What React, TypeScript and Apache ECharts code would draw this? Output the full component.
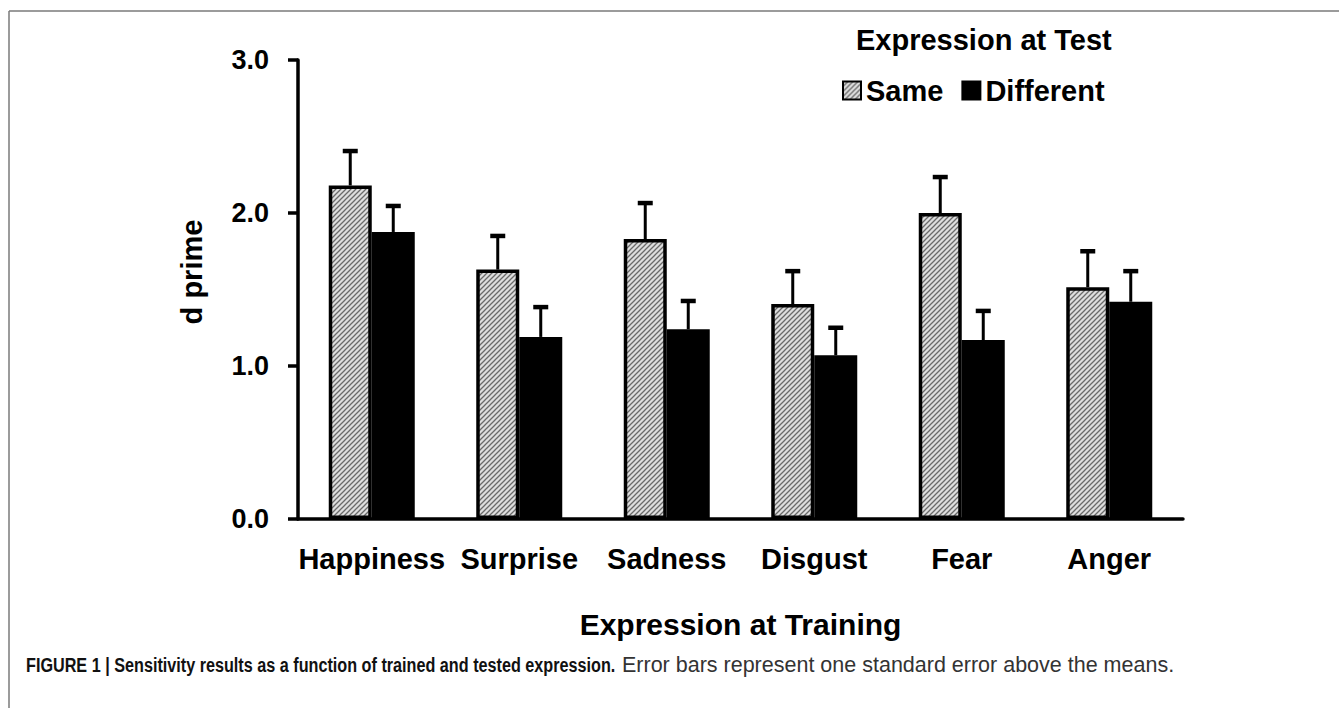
import React, { useEffect, useRef } from "react";
import * as echarts from "echarts";

const categories = ["Happiness", "Surprise", "Sadness", "Disgust", "Fear", "Anger"];
const seriesNames = ["Same", "Different"];
const sameMeans = [2.18, 1.63, 1.83, 1.405, 2.0, 1.515];
const sameSE = [0.225, 0.22, 0.235, 0.215, 0.235, 0.235];
const diffMeans = [1.876, 1.19, 1.24, 1.07, 1.17, 1.42];
const diffSE = [0.17, 0.195, 0.185, 0.18, 0.19, 0.2];
const yTicks = [0, 1, 2, 3];

const BAR_W = 43;
const AXIS_FONT = "'Liberation Sans', Arial, Helvetica, sans-serif";

function makeHatch(): HTMLCanvasElement {
  const c = document.createElement("canvas");
  c.width = 5;
  c.height = 5;
  const ctx = c.getContext("2d")!;
  ctx.fillStyle = "#dedede";
  ctx.fillRect(0, 0, 5, 5);
  ctx.strokeStyle = "#6a6a6a";
  ctx.lineWidth = 1.3;
  ctx.beginPath();
  ctx.moveTo(-1, 6);
  ctx.lineTo(6, -1);
  ctx.moveTo(-1, 1);
  ctx.lineTo(1, -1);
  ctx.moveTo(4, 6);
  ctx.lineTo(6, 4);
  ctx.stroke();
  return c;
}

export default function App() {
  const ref = useRef<HTMLDivElement>(null);
  useEffect(() => {
    if (!ref.current) return;
    const chart = echarts.init(ref.current, null, { renderer: "svg" });
    const hatch = { image: makeHatch(), repeat: "repeat" as const };

    const errSeries = (name: string, means: number[], se: number[], offset: number) => ({
      type: "custom",
      name,
      z: 5,
      data: means.map((m, i) => [i, m, se[i]]),
      encode: { x: 0, y: 1 },
      renderItem: (_p: any, api: any) => {
        const idx = api.value(0);
        const mean = api.value(1);
        const s = api.value(2);
        const base = api.coord([idx, mean]);
        const top = api.coord([idx, mean + s]);
        const x = base[0] + offset;
        return {
          type: "group",
          children: [
            { type: "line", shape: { x1: x, y1: base[1], x2: x, y2: top[1] }, style: { stroke: "#000", lineWidth: 3 } },
            { type: "line", shape: { x1: x - 7.5, y1: top[1], x2: x + 7.5, y2: top[1] }, style: { stroke: "#000", lineWidth: 4.5 } },
          ],
        };
      },
    });

    chart.setOption({
      animation: false,
      backgroundColor: "#fff",
      title: {
        text: "Expression at Test",
        left: 856,
        top: 25,
        padding: 0,
        textStyle: { fontFamily: AXIS_FONT, fontWeight: "bold", fontSize: 29, color: "#000" },
      },
      legend: {
        data: seriesNames,
        left: 842,
        top: 76,
        padding: 0,
        itemGap: 18,
        itemWidth: 18,
        itemHeight: 18,
        icon: "rect",
        textStyle: { fontFamily: AXIS_FONT, fontWeight: "bold", fontSize: 29, color: "#000" },
      },
      grid: { left: 298, right: 156, top: 60, bottom: 189, containLabel: false },
      xAxis: {
        type: "category",
        data: categories,
        name: "Expression at Training",
        nameLocation: "middle",
        nameGap: 90,
        nameTextStyle: { fontFamily: AXIS_FONT, fontWeight: "bold", fontSize: 30, color: "#000" },
        axisLine: { show: true, lineStyle: { color: "#000", width: 3.5 } },
        axisTick: { show: false },
        axisLabel: { fontFamily: AXIS_FONT, fontWeight: "bold", fontSize: 29, color: "#000", margin: 25, interval: 0 },
      },
      yAxis: {
        type: "value",
        min: yTicks[0],
        max: yTicks[yTicks.length - 1],
        interval: 1,
        name: "d prime",
        nameLocation: "middle",
        nameGap: 92,
        nameRotate: 90,
        nameTextStyle: { fontFamily: AXIS_FONT, fontWeight: "bold", fontSize: 29, color: "#000", padding: [0, 0, 0, 35] },
        axisLine: { show: true, lineStyle: { color: "#000", width: 3.5 } },
        axisTick: { show: true, length: 10, lineStyle: { color: "#000", width: 3.5 } },
        splitLine: { show: false },
        axisLabel: {
          fontFamily: AXIS_FONT,
          fontWeight: "bold",
          fontSize: 27,
          color: "#000",
          margin: 29,
          formatter: (v: number) => v.toFixed(1),
        },
      },
      series: [
        {
          type: "bar",
          name: seriesNames[0],
          data: sameMeans,
          barWidth: BAR_W,
          barGap: "0%",
          itemStyle: { color: hatch, borderColor: "#000", borderWidth: 3.5 },
        },
        {
          type: "bar",
          name: seriesNames[1],
          data: diffMeans,
          barWidth: BAR_W,
          barGap: "0%",
          itemStyle: { color: "#000", borderColor: "#000", borderWidth: 3.5 },
        },
        errSeries("Same SE", sameMeans, sameSE, -BAR_W / 2),
        errSeries("Different SE", diffMeans, diffSE, BAR_W / 2),
      ],
      graphic: [
        { type: "line", shape: { x1: 9, y1: 11, x2: 1339, y2: 11 }, style: { stroke: "#7a7a7a", lineWidth: 1.5 } },
        { type: "line", shape: { x1: 9, y1: 11, x2: 9, y2: 708 }, style: { stroke: "#7a7a7a", lineWidth: 1.5 } },
        {
          type: "text",
          x: 26,
          y: 665,
          scaleX: 0.81,
          style: {
            text: "FIGURE 1 | Sensitivity results as a function of trained and tested expression.",
            fontFamily: AXIS_FONT,
            fontWeight: "bold",
            fontSize: 20,
            fill: "#111",
            verticalAlign: "middle",
          },
        },
        {
          type: "text",
          x: 622,
          y: 665,
          style: {
            text: "Error bars represent one standard error above the means.",
            fontFamily: AXIS_FONT,
            fontSize: 21.5,
            fill: "#333",
            verticalAlign: "middle",
          },
        },
      ],
    });
    return () => chart.dispose();
  }, []);
  return (
    <div
      ref={ref}
      style={{ position: "fixed", left: 0, top: 0, width: 1339, height: 708, background: "#fff" }}
    />
  );
}
